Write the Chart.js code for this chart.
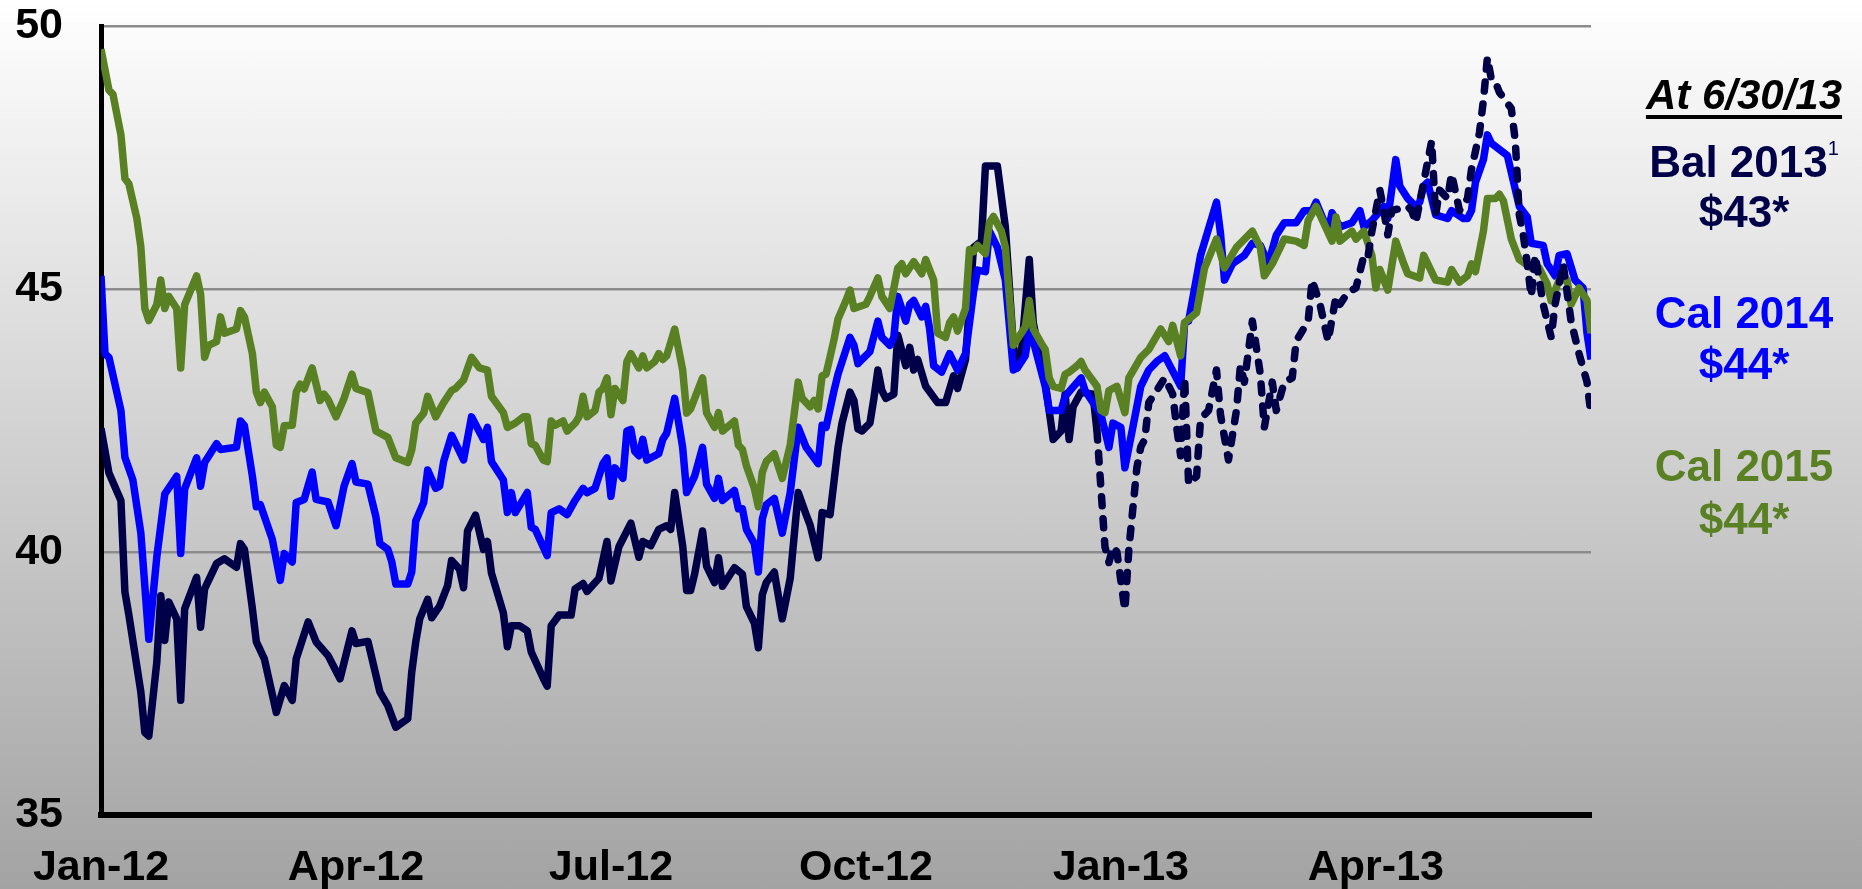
<!DOCTYPE html>
<html lang="en">
<head>
<meta charset="UTF-8">
<title>Forward prices</title>
<script src="https://cdn.jsdelivr.net/npm/chart.js@4.4.1/dist/chart.umd.min.js"></script>
<style>
    html, body { margin: 0; padding: 0; }
    body {
        width: 1862px; height: 889px; overflow: hidden; position: relative;
        background: linear-gradient(to bottom, #ffffff 0%, #a3a3a3 100%);
        font-family: 'Liberation Sans', Arial, sans-serif;
    }
    #prices { position: absolute; left: 0; top: 0; }
    .note {
        position: absolute; left: 1644px; width: 200px;
        text-align: center; font-weight: bold; font-size: 44px; line-height: 44px;
        white-space: nowrap;
    }
    .asof { color: #000; font-style: italic; font-size: 42px; text-decoration: underline; text-decoration-thickness: 4px; text-underline-offset: 6px; }
    .navy { color: #000048; }
    .blue { color: #0000ff; }
    .green { color: #5a8024; }
    .note sup { font-size: 20px; font-weight: normal; vertical-align: 22px; line-height: 0; }
</style>
</head>
<body>
    <canvas id="prices" width="1862" height="889"></canvas>

    <div class="note asof" style="top:73px">At 6/30/13</div>
    <div class="note navy" style="top:140px">Bal 2013<sup>1</sup></div>
    <div class="note navy" style="top:190px">$43*</div>
    <div class="note blue" style="top:291px">Cal 2014</div>
    <div class="note blue" style="top:342px">$44*</div>
    <div class="note green" style="top:444px">Cal 2015</div>
    <div class="note green" style="top:497px">$44*</div>

<script>
// x = trading day counted from the first session of 2012
const tickDays = [0, 64, 128, 192, 256, 320];
const tickLabels = ['Jan-12', 'Apr-12', 'Jul-12', 'Oct-12', 'Jan-13', 'Apr-13'];

// Cal 2013 strip, traded through year end 2012
const cal13Day = [0,2,5,6,7,10,11,12,14,15,16,17,19,20,21,24,25,26,29,31,34,35,36,38,39,41,44,46,48,49,52,54,57,60,63,64,67,70,72,74,77,78,79,80,82,83,85,87,88,90,91,92,94,96,97,98,101,102,103,105,107,108,111,112,113,115,118,119,121,122,125,127,128,130,133,135,136,138,140,142,143,144,146,147,148,149,151,152,154,155,156,159,161,162,164,165,166,167,169,171,173,175,177,178,180,181,183,185,186,188,189,190,191,193,194,195,196,197,199,200,202,203,204,205,207,210,212,214,215,217,219,221,222,225,227,229,230,231,233,234,237,239,241,242,243,244,246,249,250];
const cal13Price = [42.35,41.5,40.98,39.24,38.8,37.34,36.57,36.5,37.9,39.17,38.32,39.05,38.73,37.18,38.92,39.52,38.57,39.3,39.78,39.87,39.71,40.16,40.05,38.92,38.29,37.97,36.95,37.46,37.18,37.97,38.67,38.29,38.03,37.59,38.5,38.26,38.3,37.34,37.08,36.67,36.83,37.72,38.29,38.73,39.1,38.75,38.97,39.36,39.84,39.67,39.32,40.4,40.7,40.05,40.2,39.6,38.84,38.2,38.6,38.6,38.5,38.1,37.6,37.45,38.6,38.8,38.8,39.3,39.4,39.25,39.5,40.2,39.45,40.1,40.55,39.9,40.2,40.12,40.43,40.5,40.43,41.13,40.12,39.27,39.27,39.58,40.4,39.73,39.42,39.89,39.35,39.7,39.58,38.96,38.65,38.18,39.19,39.42,39.62,38.73,39.5,41.13,40.71,40.51,39.89,40.75,40.71,41.99,42.45,43.04,42.88,42.34,42.3,42.45,42.92,43.46,43.07,42.92,43.0,44.12,43.54,43.89,43.46,43.66,43.15,42.84,42.84,43.35,43.11,43.66,45.79,45.91,47.34,47.34,46.18,43.93,43.5,43.77,45.56,44.36,43.23,42.14,42.3,43.0,42.14,42.76,43.04,43.0,42.3];

// balance-of-year 2013 (dashed)
const bal13Day = [250,252,253,254,255,257,258,260,261,262,263,265,267,269,270,271,272,273,275,276,278,280,281,283,285,286,287,289,291,292,294,295,297,299,300,303,304,306,308,310,311,313,315,317,318,319,321,322,323,324,328,329,330,332,334,335,336,338,339,341,343,344,346,347,348,349,350,351,354,355,356,357,358,359,360,362,364,365,367,369,371,373,374];
const bal13Price = [42.3,40.1,39.8,40.1,40.0,38.9,40.05,41.6,42.0,42.14,42.84,43.07,43.31,43.0,42.37,41.83,43.31,41.29,41.44,42.53,42.69,43.46,42.61,41.75,42.69,43.54,43.23,44.39,43.38,42.37,43.23,42.69,43.23,43.31,44.01,44.39,45.17,44.7,44.01,44.86,44.71,44.94,45.02,45.64,45.6,46.1,46.88,46.49,46.03,46.49,46.57,46.49,46.26,47.03,47.81,46.41,46.88,46.72,47.19,46.49,46.72,47.27,47.97,48.59,49.4,48.98,48.94,48.74,48.43,47.81,46.41,46.03,45.48,44.86,45.64,44.71,44.08,44.71,45.48,44.39,43.77,43.23,42.61];

// Cal 2014 strip
const cal14Day = [0,1,2,5,6,8,10,12,14,15,16,19,20,21,24,25,26,29,30,34,35,36,38,39,40,43,45,46,48,49,51,53,54,57,59,61,63,64,67,69,70,72,73,74,77,78,79,81,82,84,85,86,88,91,93,96,97,98,101,102,103,104,107,108,109,112,113,115,117,119,121,122,124,126,127,128,129,131,132,133,134,135,136,137,140,141,142,144,146,147,149,151,152,154,155,156,159,160,161,162,164,165,166,167,169,171,173,175,177,180,181,182,184,185,188,189,190,191,193,195,196,198,199,200,202,203,204,206,207,208,209,211,213,215,217,219,220,222,223,225,227,229,230,232,233,234,237,238,241,242,246,247,251,253,254,256,257,259,261,263,265,267,271,272,273,276,280,281,282,284,287,289,291,293,295,297,300,302,304,305,308,309,311,314,316,317,319,322,323,325,326,328,330,331,332,333,335,338,339,342,343,344,345,347,348,349,353,356,358,359,362,363,365,366,368,370,372,373,374];
const cal14Price = [45.25,43.77,43.7,42.69,41.8,41.37,40.36,38.34,39.9,40.5,41.1,41.44,39.97,41.2,41.79,41.25,41.7,42.06,41.95,41.99,42.49,42.4,41.44,40.86,40.9,40.24,39.46,39.97,39.81,40.94,41.0,41.52,41.0,40.95,40.5,41.25,41.68,41.33,41.29,40.67,40.16,40.05,39.81,39.39,39.39,39.62,40.59,40.94,41.56,41.21,41.25,41.72,42.22,41.75,42.57,42.14,42.37,41.72,41.37,40.75,41.13,40.75,41.13,40.47,40.43,39.93,40.75,40.82,40.71,40.98,41.21,41.13,41.21,41.68,41.79,41.06,41.6,41.4,42.3,42.33,41.91,41.83,42.14,41.75,41.87,42.14,42.26,42.92,41.99,41.13,41.44,41.99,41.29,41.02,41.4,40.98,41.17,40.82,40.82,40.43,40.16,39.62,40.63,40.9,41.02,40.36,41.13,42.37,41.99,41.68,42.41,42.37,43.07,43.38,44.08,43.93,43.58,43.66,43.81,44.39,44.08,43.93,44.08,44.86,44.39,44.71,44.78,44.47,44.67,44.24,43.54,43.42,43.77,43.46,43.77,44.94,45.36,45.33,46.1,45.79,45.17,43.46,43.5,43.73,44.24,44.01,43.15,42.69,42.69,42.96,43.31,43.07,42.61,41.99,42.45,42.37,41.6,42.37,43.15,43.46,43.62,43.73,43.15,44.36,44.39,45.64,46.65,46.06,45.17,45.48,45.64,45.87,45.83,45.48,46.02,46.26,46.26,46.49,46.49,46.65,46.1,46.45,46.18,46.26,46.49,46.18,46.3,46.57,46.34,47.46,46.96,46.72,46.57,46.65,46.96,47.03,46.41,46.34,46.49,46.34,46.34,46.49,47.03,47.46,47.93,47.77,47.54,46.57,46.37,45.87,45.83,45.48,45.25,45.64,45.67,45.17,45.02,44.16,43.66];

// Cal 2015 strip
const cal15Day = [0,2,3,5,6,7,9,10,11,12,14,15,16,17,19,20,21,24,25,26,27,29,30,31,34,35,36,38,39,40,41,43,44,45,46,48,49,50,51,53,55,56,57,59,61,63,64,67,69,72,74,77,78,79,81,82,84,86,88,89,91,93,95,97,98,101,102,104,106,107,108,109,111,112,113,114,116,117,119,120,121,122,124,125,126,127,128,129,131,132,133,135,136,137,139,140,141,142,144,146,147,148,151,152,154,155,156,159,160,161,162,164,165,166,167,169,171,173,175,176,178,179,180,181,182,184,185,187,188,189,192,193,195,196,198,200,201,202,204,206,207,209,210,212,213,214,215,217,218,219,220,222,223,224,226,227,228,229,231,232,233,234,236,237,238,239,241,242,243,245,246,247,250,251,252,253,255,257,258,261,263,266,268,269,271,272,275,277,280,282,285,289,291,292,294,297,300,302,303,305,309,310,311,314,315,317,319,320,321,323,325,327,328,331,332,335,338,339,341,343,344,345,347,348,350,351,352,354,356,359,361,363,364,366,368,369,371,373,374];
const cal15Price = [49.56,48.78,48.7,47.93,47.1,47.0,46.34,45.8,44.63,44.4,44.7,45.17,44.63,44.86,44.63,43.5,44.7,45.25,44.9,43.7,43.93,44.0,44.47,44.16,44.24,44.59,44.47,43.77,43.04,42.84,43.04,42.76,42.03,41.99,42.4,42.41,43.04,43.19,43.1,43.5,42.88,43.0,42.9,42.57,42.92,43.38,43.11,43.03,42.3,42.18,41.79,41.7,41.94,42.45,42.64,42.96,42.57,42.84,43.07,43.11,43.27,43.7,43.5,43.46,42.96,42.65,42.37,42.45,42.57,42.57,42.06,42.03,41.75,41.72,42.49,42.41,42.49,42.3,42.45,42.57,42.96,42.57,42.69,43.04,43.11,43.31,42.61,43.11,42.88,43.62,43.77,43.5,43.73,43.5,43.62,43.77,43.66,43.73,44.24,43.46,42.64,42.72,43.31,42.65,42.37,42.65,42.3,42.49,42.03,41.95,41.64,41.21,40.86,41.52,41.72,41.87,41.4,42.03,43.23,42.92,42.76,42.88,42.72,43.35,43.38,44.04,44.43,44.78,44.98,44.63,44.71,44.86,45.21,44.86,44.63,45.4,45.48,45.29,45.52,45.29,45.56,45.17,44.16,44.08,44.36,44.47,44.2,44.63,45.75,45.71,45.83,45.67,46.26,46.38,46.1,45.79,44.86,43.93,44.16,44.28,44.78,44.24,43.97,43.85,43.31,43.15,43.11,43.38,43.42,43.54,43.62,43.46,43.15,42.69,42.65,43.07,43.15,42.65,43.31,43.7,43.85,44.24,44.0,44.31,43.73,44.36,44.55,45.4,45.95,45.4,45.79,46.1,45.79,45.25,45.48,45.95,45.91,45.83,46.3,46.57,45.91,46.37,45.91,46.1,45.95,46.1,45.64,45.02,45.37,44.98,45.91,45.48,45.29,45.21,45.64,45.17,45.13,45.37,45.13,45.25,45.48,45.33,46.1,46.72,46.72,46.8,46.68,45.95,45.56,45.4,45.4,45.09,44.78,45.17,45.17,44.71,45.02,44.78,44.16];

const NAVY = '#000048', BLUE = '#0000ff', GREEN = '#5a8024';
const axisFont = { family: "'Liberation Sans', Arial, sans-serif", size: 43, weight: 'bold' };

function pairs(days, prices) {
    return days.map((d, i) => ({ x: d, y: prices[i] }));
}

function line(label, days, prices, color, dash) {
    return {
        label: label,
        data: pairs(days, prices),
        borderColor: color,
        borderWidth: 7.5,
        borderDash: dash || [],
        borderCapStyle: dash ? 'round' : 'butt',
        borderJoinStyle: 'round',
        pointRadius: 0,
        pointHoverRadius: 0,
        tension: 0,
        fill: false
    };
}

// first dataset is painted last, so the dashed line sits on top
new Chart(document.getElementById('prices'), {
    type: 'line',
    data: {
        datasets: [
            line('Bal 2013', bal13Day, bal13Price, NAVY, [9, 13]),
            line('Cal 2015', cal15Day, cal15Price, GREEN),
            line('Cal 2014', cal14Day, cal14Price, BLUE),
            line('Cal 2013', cal13Day, cal13Price, NAVY)
        ]
    },
    options: {
        responsive: false,
        devicePixelRatio: 1,
        animation: false,
        layout: { padding: { top: 26, right: 271, left: 0, bottom: 0 } },
        plugins: { legend: { display: false }, tooltip: { enabled: false } },
        scales: {
            x: {
                type: 'linear',
                min: 0,
                max: 374,
                grid: { display: false, drawTicks: false },
                border: { display: true, color: '#000', width: 6 },
                afterBuildTicks: scale => { scale.ticks = tickDays.map(v => ({ value: v })); },
                afterFit: scale => { scale.height = 74; },
                ticks: {
                    autoSkip: false,
                    maxRotation: 0,
                    padding: 27,
                    color: '#000',
                    font: axisFont,
                    callback: v => tickLabels[tickDays.indexOf(v)]
                }
            },
            y: {
                min: 35,
                max: 50,
                grid: {
                    drawTicks: false,
                    lineWidth: 2.5,
                    color: c => c.tick.value === 35 ? 'rgba(0,0,0,0)' : '#8c8c8c'
                },
                border: { display: true, color: '#000', width: 5 },
                afterFit: scale => {
                    scale.width = 101;
                    scale.paddingTop = 0;
                    scale.paddingBottom = 0;
                },
                ticks: { stepSize: 5, padding: 38, color: '#000', font: axisFont }
            }
        }
    }
});
</script>
</body>
</html>
